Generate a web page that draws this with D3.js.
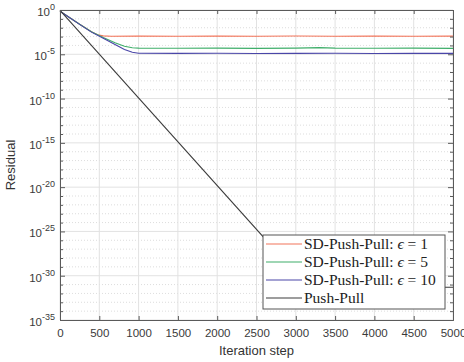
<!DOCTYPE html>
<html>
<head>
<meta charset="utf-8">
<script src="https://cdn.jsdelivr.net/npm/d3@7"></script>
<style>
  body { margin: 0; background: #fff; }
  svg { display: block; font-family: "Liberation Sans", Arial, sans-serif; }
  .tick-label { fill: #3a3a3a; font-size: 11.5px; }
  .leg-text { font-family: "Liberation Serif", "DejaVu Serif", serif; font-size: 15.5px; fill: #222; }
</style>
</head>
<body>
<div id="chart"></div>
<script>
const W = 464, H = 362;
const M = { top: 10, right: 11, bottom: 42, left: 60 };

// iteration steps and log10(residual)
const sd1Iter = [0, 250, 400, 480, 550, 650, 1000, 1500, 2000, 2500, 3000, 3500, 4000, 4500, 5000];
const sd1Log  = [-0.15, -1.6, -2.45, -2.8, -2.92, -2.96, -2.95, -2.97, -2.95, -2.96, -2.94, -2.96, -2.95, -2.97, -2.95];

const sd5Iter = [0, 250, 400, 550, 700, 820, 920, 1000, 1500, 2000, 2500, 3000, 3300, 3500, 4000, 4500, 5000];
const sd5Log  = [-0.15, -1.6, -2.45, -3.1, -3.7, -4.1, -4.27, -4.3, -4.32, -4.3, -4.33, -4.3, -4.25, -4.3, -4.32, -4.3, -4.33];

const sd10Iter = [0, 250, 400, 550, 700, 820, 920, 1000, 1500, 2000, 2500, 3000, 3500, 4000, 4500, 5000];
const sd10Log  = [-0.15, -1.62, -2.5, -3.2, -3.9, -4.45, -4.78, -4.88, -4.9, -4.88, -4.91, -4.9, -4.88, -4.91, -4.9, -4.9];

const ppIter = [0, 3160, 3500, 4000, 4500, 5000];
const ppLog  = [-0.05, -31.3, -31.3, -31.3, -31.3, -31.3];

const seriesNames = ["SD-Push-Pull: ", "SD-Push-Pull: ", "SD-Push-Pull: ", "Push-Pull"];
const seriesEps = ["1", "5", "10", null];
const seriesColors = ["#f2745a", "#3fae6a", "#4a46a8", "#3d3d3d"];

const xTicks = d3.range(0, 5001, 500);
const yMajorExp = [0, -5, -10, -15, -20, -25, -30, -35];
const yMinorExp = d3.range(0, -36, -1);

const svg = d3.select("#chart").append("svg").attr("width", W).attr("height", H);

const x = d3.scaleLinear().domain([0, 5000]).range([M.left, W - M.right]);
const y = d3.scaleLog().domain([1e-35, 1]).range([H - M.bottom, M.top]);

// grid
const grid = svg.append("g");
grid.selectAll("line.ymin").data(yMinorExp.filter(e => e % 5 !== 0)).enter().append("line")
  .attr("x1", M.left).attr("x2", W - M.right)
  .attr("y1", e => y(Math.pow(10, e))).attr("y2", e => y(Math.pow(10, e)))
  .attr("stroke", "#d4d4d4").attr("stroke-width", 0.8).attr("stroke-dasharray", "1,2");
grid.selectAll("line.ymaj").data(yMajorExp).enter().append("line")
  .attr("x1", M.left).attr("x2", W - M.right)
  .attr("y1", e => y(Math.pow(10, e))).attr("y2", e => y(Math.pow(10, e)))
  .attr("stroke", "#e2e2e2").attr("stroke-width", 1);
grid.selectAll("line.xg").data(xTicks).enter().append("line")
  .attr("x1", d => x(d)).attr("x2", d => x(d))
  .attr("y1", M.top).attr("y2", H - M.bottom)
  .attr("stroke", "#e2e2e2").attr("stroke-width", 1);

// lines
const line = d3.line().x(d => x(d[0])).y(d => y(Math.pow(10, d[1])));
const series = [
  d3.zip(sd1Iter, sd1Log),
  d3.zip(sd5Iter, sd5Log),
  d3.zip(sd10Iter, sd10Log),
  d3.zip(ppIter, ppLog)
];
svg.append("g").selectAll("path").data(series).enter().append("path")
  .attr("d", line)
  .attr("fill", "none")
  .attr("stroke", (d, i) => seriesColors[i])
  .attr("stroke-width", 1.1);

// axes (inward ticks, boxed)
const axColor = "#5a5a5a";
const xAxis = svg.append("g").attr("transform", `translate(0,${H - M.bottom})`)
  .call(d3.axisBottom(x).tickValues(xTicks).tickSize(-4).tickPadding(9).tickFormat(d3.format("d")));
const xTop = svg.append("g").attr("transform", `translate(0,${M.top})`)
  .call(d3.axisTop(x).tickValues(xTicks).tickSize(-4).tickFormat(""));
const yAxis = svg.append("g").attr("transform", `translate(${M.left},0)`)
  .call(d3.axisLeft(y).tickValues(yMinorExp.map(e => Math.pow(10, e))).tickSize(-3).tickFormat(""));
const yRight = svg.append("g").attr("transform", `translate(${W - M.right},0)`)
  .call(d3.axisRight(y).tickValues(yMinorExp.map(e => Math.pow(10, e))).tickSize(-3).tickFormat(""));
[xAxis, xTop, yAxis, yRight].forEach(g => {
  g.select(".domain").attr("stroke", axColor);
  g.selectAll(".tick line").attr("stroke", axColor);
});
yAxis.selectAll(".tick line").filter(d => Math.round(Math.log10(d)) % 5 === 0).attr("x2", 5);
yRight.selectAll(".tick line").filter(d => Math.round(Math.log10(d)) % 5 === 0).attr("x2", -5);
xAxis.selectAll(".tick text").attr("class", "tick-label").attr("font-family", null).attr("font-size", null);

// y tick labels with superscripts
const yl = svg.append("g");
yMajorExp.forEach(e => {
  const t = yl.append("text").attr("class", "tick-label").attr("font-size", "12.5px")
    .attr("x", M.left - 5).attr("y", y(Math.pow(10, e)) + 6)
    .attr("text-anchor", "end");
  t.append("tspan").text("10");
  t.append("tspan").attr("dy", -6).attr("font-size", "9px").text(e === 0 ? "0" : String(e));
});

// axis labels
svg.append("text").attr("x", (M.left + W - M.right) / 2).attr("y", H - 7)
  .attr("text-anchor", "middle").attr("font-size", "13px").attr("fill", "#333").text("Iteration step");
svg.append("text").attr("transform", `translate(15,${(M.top + H - M.bottom) / 2}) rotate(-90)`)
  .attr("text-anchor", "middle").attr("font-size", "13px").attr("fill", "#333").text("Residual");

// legend
const lg = svg.append("g");
lg.append("rect").attr("x", 263).attr("y", 235).attr("width", 182).attr("height", 74)
  .attr("fill", "#fff").attr("stroke", "#555").attr("stroke-width", 1);
seriesNames.forEach((name, i) => {
  const ry = 244 + i * 18;
  lg.append("line").attr("x1", 266).attr("x2", 302).attr("y1", ry).attr("y2", ry)
    .attr("stroke", seriesColors[i]).attr("stroke-width", 1.1);
  const t = lg.append("text").attr("class", "leg-text").attr("x", 304).attr("y", ry + 5).text(name);
  if (seriesEps[i] !== null) {
    t.append("tspan").attr("font-style", "italic").text("\u03F5");
    t.append("tspan").text(" = " + seriesEps[i]);
  }
});
</script>
</body>
</html>
